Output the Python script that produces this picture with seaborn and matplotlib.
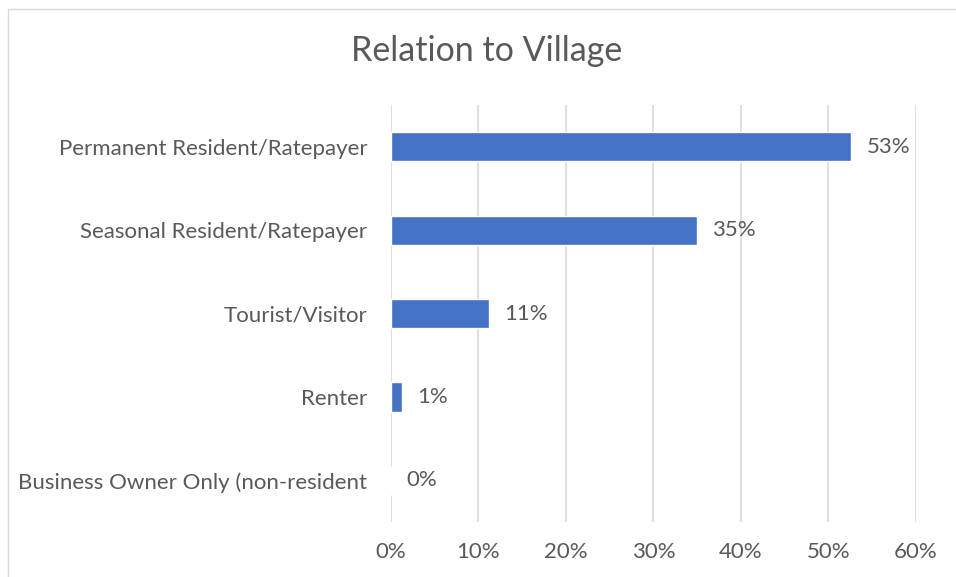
import matplotlib
matplotlib.use("Agg")
import matplotlib.pyplot as plt
import seaborn as sns
import pandas as pd
from matplotlib.ticker import PercentFormatter
from matplotlib.patches import Rectangle

# Data
categories = [
    "Permanent Resident/Ratepayer",
    "Seasonal Resident/Ratepayer",
    "Tourist/Visitor",
    "Renter",
    "Business Owner Only (non-resident",
]
shares = [52.6, 35.0, 11.2, 1.2, 0.0]
labels = ["53%", "35%", "11%", "1%", "0%"]
x_ticks = [0, 10, 20, 30, 40, 50, 60]

df = pd.DataFrame({"category": categories, "share": shares})

sns.set_theme(style="white")
plt.rcParams["font.family"] = ["Lato", "DejaVu Sans"]

text_color = "#595959"
bar_color = "#4472C4"

fig = plt.figure(figsize=(9.56, 5.77), dpi=100)
ax = fig.add_axes([0.409, 0.095, 0.549, 0.723])

sns.barplot(data=df, x="share", y="category", color=bar_color, width=0.35,
            saturation=1, ax=ax, zorder=3)

# data labels
for i, (v, lab) in enumerate(zip(shares, labels)):
    ax.annotate(lab, xy=(v, i), xytext=(11, 0), textcoords="offset points",
                ha="left", va="center", fontsize=16, color=text_color)

ax.set_xlim(0, 60)
ax.set_xticks(x_ticks)
ax.xaxis.set_major_formatter(PercentFormatter(decimals=0))
ax.grid(axis="x", color="#D9D9D9", linewidth=1.2, zorder=0)
ax.set_axisbelow(True)
for s in ax.spines.values():
    s.set_visible(False)
ax.set_xlabel("")
ax.set_ylabel("")
ax.tick_params(axis="both", length=0, labelsize=16, colors=text_color)
ax.tick_params(axis="x", pad=14)
ax.tick_params(axis="y", pad=17)

fig.text(0.509, 0.912, "Relation to Village", ha="center", va="center",
         fontsize=24.5, color=text_color)

# chart area border
fig.patches.append(Rectangle((0.008, -0.02), 1.05, 1.005, transform=fig.transFigure,
                             fill=False, edgecolor="#D9D9D9", linewidth=1))

fig.savefig("out.png", dpi=100)
